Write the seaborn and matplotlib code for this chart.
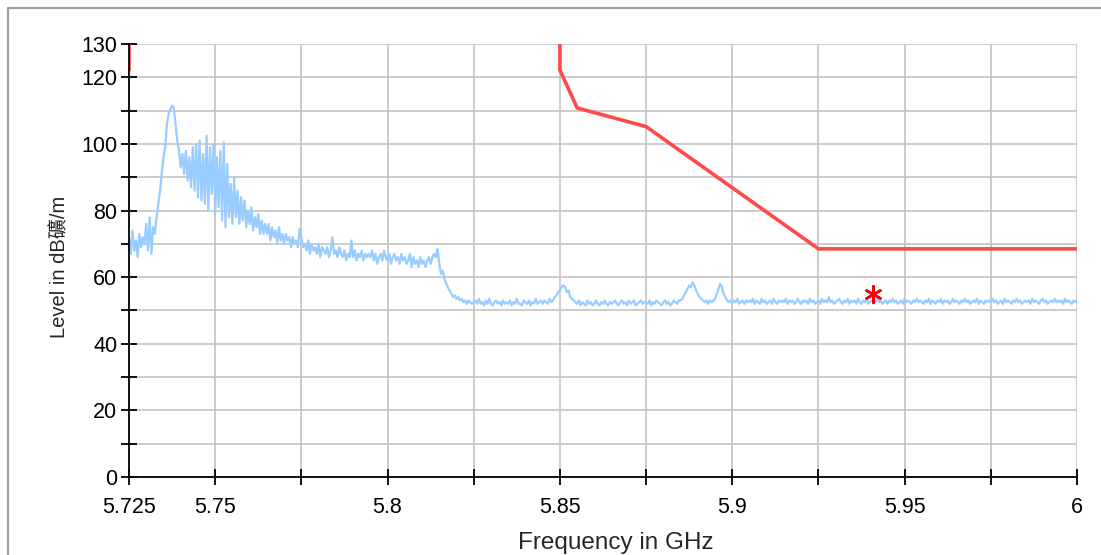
import numpy as np
import pandas as pd
import seaborn as sns
import matplotlib.pyplot as plt
from matplotlib.lines import Line2D

# sweep 5.725 .. 6.0 GHz, 0.5 MHz step (551 points), level in dBuV/m
f_start, f_stop = 5.725, 6.0
level = [
    72, 67, 74, 68, 71, 66, 73, 69, 72, 70, 76, 68, 78, 67, 75, 73, 78, 82, 86, 91,
    96, 99, 106, 109, 110.5, 111.5, 111, 106, 101, 98, 93, 97, 91, 98, 89, 96, 87, 99, 86, 100,
    84, 101, 83, 97, 82, 102.5, 80, 99, 85, 100, 79, 96, 81, 98, 77, 100.5, 75, 94, 78, 88,
    76, 90, 78, 86, 76, 84, 77, 83, 75, 80, 76, 81, 74, 78, 75, 79, 73, 77, 73, 76,
    73, 76, 71, 75, 72, 74, 70, 75, 71, 73, 70, 73, 71, 72, 69, 72, 70, 71, 69, 74.5,
    72, 69, 70, 68, 71, 67, 70, 68, 69, 67, 70, 66, 69, 68, 67, 69, 66, 68, 72, 67,
    68, 66, 69, 67, 66, 68, 65, 67, 66, 71, 66, 68, 65, 67, 66, 68, 65, 67, 66, 67,
    66, 68, 65, 67, 64, 66, 67, 65, 68, 66, 65, 67, 64, 66, 67, 65, 66, 64, 67, 65,
    66, 64, 65, 67, 63, 66, 64, 65, 63, 66, 64, 65, 63, 65, 66, 64, 66, 67, 66, 68.5,
    64, 61, 62, 59.5, 58, 57, 56, 55, 54, 54.5, 53.5, 54, 53, 53.5, 52.5, 53, 52, 53, 52.5, 52,
    52.5, 53, 52, 53.5, 52, 52.5, 51.5, 53, 52, 53.5, 52, 51.5, 52.5, 53, 52, 52.5, 51.5, 53, 52, 52.5,
    52, 53, 51.5, 52.5, 52, 53.5, 52, 52, 51.5, 53, 52.5, 52, 53, 51.5, 52.5, 52, 53.5, 52, 52.5, 53,
    52, 53, 52.5, 52, 53.5, 52.5, 53, 54, 54.5, 55.5, 56, 57, 57.5, 57, 55.5, 56, 54, 53.5, 53, 52.5,
    52, 53, 51.5, 52.5, 52, 51.5, 53, 52, 52.5, 51.5, 52, 53, 52, 51.5, 52.5, 52, 53, 52, 51.5, 52.5,
    52, 52.5, 53, 52, 51.5, 52.5, 53, 52, 52.5, 51.5, 53, 52, 52.5, 53, 51.5, 52, 52.5, 53, 52, 52.5,
    52.5, 52, 53, 51.5, 52.5, 52, 53, 52.5, 52, 51.5, 52.5, 53, 52, 52.5, 51.5, 52, 53, 52.5, 52, 53,
    53, 53.5, 54.5, 55.5, 56.5, 57.5, 57, 58.5, 57.5, 56, 55, 54, 53.5, 53, 52.5, 53, 52, 53, 52.5, 53,
    53.5, 55, 56.5, 58, 57, 55, 54, 53, 52.5, 53, 52, 53, 52.5, 53.5, 52, 52.5, 53, 52, 53, 52.5,
    53, 52.5, 53.5, 52, 53, 52.5, 52, 53.5, 52.5, 53, 52, 52.5, 53, 52, 53.5, 52.5, 52, 53, 52.5, 53,
    52.5, 53.5, 52, 53, 52.5, 53, 52, 52.5, 53.5, 52.5, 52, 53, 52.5, 53, 52, 53.5, 52.5, 53, 52, 52.5,
    53, 52, 53.5, 52.5, 53, 52.5, 54, 52.5, 53, 52, 52.5, 53, 53.5, 52.5, 52, 53, 52.5, 53.5, 52, 53,
    52.5, 53, 52, 53.5, 52.5, 52, 53, 52.5, 53.5, 52, 52.5, 53, 52, 52.5, 53.5, 52.5, 53, 52, 52.5, 53,
    52, 53, 52.5, 53.5, 52.5, 53, 52, 52.5, 53, 52, 53.5, 52.5, 53, 52.5, 52, 53, 52.5, 53.5, 52.5, 53,
    52.5, 52, 53, 52.5, 53.5, 52, 53, 52.5, 52, 53, 52.5, 53.5, 52, 53, 52.5, 53, 52, 52.5, 53.5, 52.5,
    53, 52.5, 52, 53, 52.5, 53.5, 52.5, 53, 52, 52.5, 53, 52.5, 53.5, 52, 53, 52.5, 52, 53, 52.5, 53,
    52.5, 53.5, 52.5, 53, 52, 52.5, 53, 52, 53.5, 52.5, 53, 52.5, 52, 53, 52.5, 53.5, 52.5, 53, 52, 52.5,
    53, 52.5, 53, 52, 53.5, 52.5, 53, 52.5, 52, 53, 53.5, 52.5, 53, 52, 52.5, 53, 52.5, 53.5, 52.5, 53,
    52.5, 53, 52, 53.5, 52.5, 53, 52.5, 52, 53, 52.5, 53,
]
freq = np.linspace(f_start, f_stop, len(level))

# limit line (two pieces)
lim_left_f = [5.725, 5.725]
lim_left_db = [122.2, 131]
lim_right_f = [5.85, 5.85, 5.855, 5.875, 5.925, 6.0]
lim_right_db = [131, 122.2, 110.8, 105.2, 68.5, 68.5]

# final measurement marker
peak_f = [5.9408]
peak_db = [54.9]

y_ticks = [0, 10, 20, 30, 40, 50, 60, 70, 80, 90, 100, 110, 120, 130]
y_labels = ['0', '', '20', '', '40', '', '60', '', '80', '', '100', '', '120', '130']
x_ticks = [5.725, 5.75, 5.775, 5.8, 5.825, 5.85, 5.875, 5.9, 5.925, 5.95, 5.975, 6.0]
x_labels = ['5.725', '5.75', '', '5.8', '', '5.85', '', '5.9', '', '5.95', '', '6']

sns.set_style("white")
plt.rcParams['font.family'] = ['Liberation Sans', 'Noto Sans CJK TC', 'DejaVu Sans']

fig = plt.figure(figsize=(11.01, 5.55), dpi=100)
ax = fig.add_axes([129/1101, 1 - 477/555, 948/1101, 433/555])

trace = pd.DataFrame({'f': freq, 'db': level})
sns.lineplot(data=trace, x='f', y='db', ax=ax, color='#99ccff', lw=1.6,
             sort=False, estimator=None)
for lf, ld in [(lim_left_f, lim_left_db), (lim_right_f, lim_right_db)]:
    d = pd.DataFrame({'f': lf, 'db': ld})
    sns.lineplot(data=d, x='f', y='db', ax=ax, color='#ff4a4a', lw=2.6,
                 sort=False, estimator=None)
ax.plot(peak_f, peak_db, ls='none', marker=(6, 2, 0), ms=13, mew=1.8,
        color='#ff0000', zorder=5)

ax.set_xlim(f_start, f_stop)
ax.set_ylim(0, 130)
ax.set_xticks(x_ticks)
ax.set_xticklabels(x_labels)
ax.set_yticks(y_ticks)
ax.set_yticklabels(y_labels)
ax.grid(True, color='#c4c4c4', lw=1.2)
ax.set_axisbelow(True)
for s in ['top', 'right']:
    ax.spines[s].set_visible(False)
for s in ['left', 'bottom']:
    ax.spines[s].set_color('black')
    ax.spines[s].set_linewidth(1.3)
ax.tick_params(axis='both', direction='inout', length=11, width=1.3,
               color='black', labelsize=15.5, labelcolor='black',
               bottom=True, left=True)
ax.tick_params(axis='y', pad=3)
ax.tick_params(axis='x', pad=9)

ax.set_xlabel('Frequency in GHz', fontsize=17.5)
ax.set_ylabel('Level in dB礦/m', fontsize=14.5)
ax.xaxis.set_label_coords(0.513, -0.128)
ax.yaxis.set_label_coords(-0.063, 0.486)

# window frame
fig.add_artist(Line2D([8/1101, 8/1101], [0, 1 - 8/555], transform=fig.transFigure,
                      color='#a0a0a0', lw=1.6))
fig.add_artist(Line2D([8/1101, 1], [1 - 8/555, 1 - 8/555], transform=fig.transFigure,
                      color='#a0a0a0', lw=1.6))

fig.savefig('out.png', dpi=100)
